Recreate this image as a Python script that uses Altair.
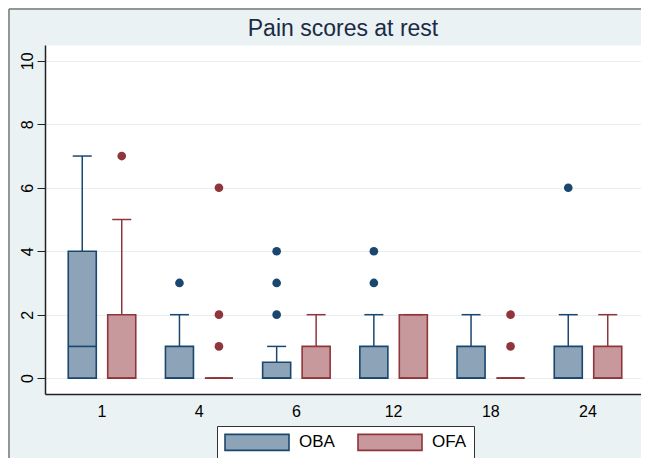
import altair as alt
import pandas as pd

# ---- data ----
hours = ["1", "4", "6", "12", "18", "24"]
groups = ["OBA", "OFA"]

oba_q1 = [0, 0, 0, 0, 0, 0]
oba_med = [1, 0, 0, 0, 0, 0]
oba_q3 = [4, 1, 0.5, 1, 1, 1]
oba_whi = [7, 2, 1, 2, 2, 2]
oba_out_hour = ["4", "6", "6", "6", "12", "12", "24"]
oba_out_val = [3, 2, 3, 4, 3, 4, 6]

ofa_q1 = [0, 0, 0, 0, 0, 0]
ofa_med = [0, 0, 0, 0, 0, 0]
ofa_q3 = [2, 0, 1, 2, 0, 1]
ofa_whi = [5, 0, 2, 2, 0, 2]
ofa_out_hour = ["1", "4", "4", "4", "18", "18"]
ofa_out_val = [7, 1, 2, 6, 1, 2]

fill_colors = ["#8ca3b8", "#c8999c"]
line_colors = ["#1a476f", "#90353b"]

# ---- tables ----
rows = []
for g, q1, med, q3, whi in [("OBA", oba_q1, oba_med, oba_q3, oba_whi),
                            ("OFA", ofa_q1, ofa_med, ofa_q3, ofa_whi)]:
    for i, h in enumerate(hours):
        rows.append({"hour": h, "group": g, "q1": q1[i], "med": med[i],
                     "q3": q3[i], "whi": whi[i]})
box = pd.DataFrame(rows)

out = pd.DataFrame(
    [{"hour": h, "group": "OBA", "val": v} for h, v in zip(oba_out_hour, oba_out_val)]
    + [{"hour": h, "group": "OFA", "val": v} for h, v in zip(ofa_out_hour, ofa_out_val)]
)

FONT = "Liberation Sans"

x_enc = alt.X("hour:N", sort=hours,
              scale=alt.Scale(paddingInner=0, paddingOuter=0.0658, align=0.656),
              axis=alt.Axis(title=None, labelAngle=0, ticks=False, labelPadding=9,
                            labelFontSize=16, labelColor="black", domainColor="#222222",
                            domainWidth=1.5, grid=False))
xo_enc = alt.XOffset("group:N", sort=groups,
                     scale=alt.Scale(paddingInner=0.29, paddingOuter=0.376))

y_scale = alt.Scale(domain=[-0.5, 10.5], nice=False, zero=False)
y_axis = alt.Axis(title=None, values=[0, 2, 4, 6, 8, 10], labelAngle=270,
                  labelFontSize=16, labelColor="black", tickSize=8, tickColor="#222222",
                  domainColor="#222222", domainWidth=1.5, labelPadding=2,
                  grid=True, gridColor="#e6eef0", gridWidth=1)


def Y(field):
    return alt.Y(field, scale=y_scale, axis=y_axis)


# data-driven domain (not the explicit list) so it does not merge with the legend
line_color = alt.Color("group:N", scale=alt.Scale(range=line_colors), legend=None)

legend = alt.Legend(title=None, orient="none", legendX=172, legendY=381,
                    direction="horizontal",
                    symbolType="M-1,-1L7,-1L7,1L-1,1Z", symbolSize=256,
                    symbolStrokeWidth=1.6, labelFontSize=17, labelOffset=57,
                    labelColor="black", columnPadding=19, padding=7,
                    strokeColor="#333333", fillColor="white")

whisk = alt.Chart(box).mark_rule(strokeWidth=1.5).encode(
    x=x_enc, xOffset=xo_enc, y=Y("q3:Q"), y2="whi:Q", color=line_color)

caps = alt.Chart(box).mark_tick(size=19, thickness=1.5, opacity=1).encode(
    x=x_enc, xOffset=xo_enc, y=Y("whi:Q"), color=line_color)

bars = alt.Chart(box).mark_bar(strokeWidth=1.6).encode(
    x=x_enc, xOffset=xo_enc, y=Y("q1:Q"), y2="q3:Q",
    fill=alt.Fill("group:N", scale=alt.Scale(domain=groups, range=fill_colors),
                  legend=legend),
    stroke=alt.Stroke("group:N", scale=alt.Scale(domain=groups, range=line_colors),
                      legend=legend))

meds = alt.Chart(box).mark_tick(size=28, thickness=1.6, opacity=1).encode(
    x=x_enc, xOffset=xo_enc, y=Y("med:Q"), color=line_color)

pts = alt.Chart(out).mark_circle(size=75, opacity=1).encode(
    x=x_enc, xOffset=xo_enc, y=Y("val:Q"), color=line_color)

one = alt.Data(values=[{"k": 1}])
frame_v = alt.Chart(one).mark_rule(color="#777777", strokeWidth=1.5).encode(
    x=alt.value(-36), y=alt.value(-36), y2=alt.value(420))
frame_h = alt.Chart(one).mark_rule(color="#777777", strokeWidth=1.5).encode(
    x=alt.value(-36), x2=alt.value(600), y=alt.value(-36))

chart = alt.layer(whisk, bars, caps, meds, pts, frame_v, frame_h).properties(
    width=596, height=349,
    title=alt.TitleParams("Pain scores at rest", fontSize=23, font=FONT,
                          fontWeight="normal", color="#1c2a45", anchor="middle",
                          offset=8, dy=41),
    autosize=alt.AutoSizeParams(type="none"),
    padding={"left": 37, "top": 37, "right": 0, "bottom": 64},
    background="#eaf2f3",
).configure(font=FONT).configure_view(fill="white", stroke="transparent")

chart.save("out.html", embed_options={"renderer": "svg", "actions": False})
